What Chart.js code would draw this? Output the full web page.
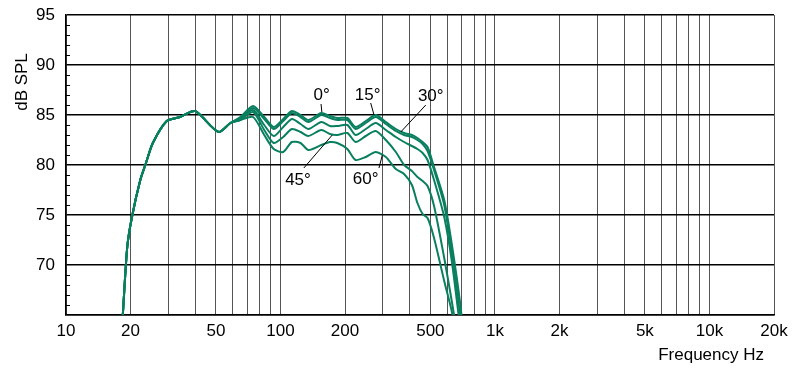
<!DOCTYPE html>
<html>
<head>
<meta charset="utf-8">
<script src="https://cdn.jsdelivr.net/npm/chart.js@4.4.1/dist/chart.umd.min.js"></script>
<style>
  html, body { margin: 0; padding: 0; background: #fff; }
  #wrap { width: 800px; height: 373px; }
</style>
</head>
<body>
<div id="wrap"><canvas id="chart" width="800" height="373"></canvas></div>
<script>
// Shared low-frequency part (all angles identical here)
const lowFreq = [18.4, 19.3, 20.3, 22.2, 23.6, 25.4, 29.5, 34, 38, 40, 42.3, 51.5];
const lowSpl  = [65, 71.8, 74.8, 78.5, 80.2, 82.2, 84.4, 84.8, 85.3, 85.4, 85.0, 83.3];

// Frequencies where the off-axis curves separate
const midFreq = [58.4, 65, 74.5, 84, 93, 103, 113, 124, 135, 155, 170, 184, 205, 224,
                 250, 278, 310, 345, 377, 410, 435, 460, 485, 520, 580, 630, 690, 720];

const spl0  = [84.2, 84.8, 85.9, 84.8, 83.8, 84.6, 85.4, 85.0, 84.5, 85.2, 84.9, 84.7, 84.7, 83.8,
               84.4, 85.0, 84.3, 83.6, 83.2, 83.0, 82.7, 82.3, 81.8, 79.8, 76.5, 72.0, 66.0, 62.0];
const spl15 = [84.2, 84.7, 85.7, 84.6, 83.6, 84.4, 85.2, 84.8, 84.3, 85.0, 84.7, 84.5, 84.5, 83.6,
               84.2, 84.8, 84.1, 83.4, 83.0, 82.8, 82.5, 82.1, 81.4, 79.5, 76.0, 71.2, 64.8, 61.0];
const spl30 = [84.2, 84.6, 85.5, 84.0, 82.9, 83.8, 84.6, 84.1, 83.6, 84.3, 83.9, 83.9, 84.0, 83.0,
               83.6, 84.2, 83.5, 82.8, 82.3, 81.9, 81.6, 81.2, 80.5, 78.5, 74.8, 70.3, 63.5, 60.0];
const spl45 = [84.2, 84.5, 85.3, 83.5, 82.2, 82.8, 83.6, 83.3, 82.9, 83.5, 83.1, 83.0, 83.2, 82.3,
               82.9, 83.4, 82.5, 81.3, 80.0, 79.4, 78.8, 78.4, 77.9, 75.9, 70.7, 66.3, 61.0, 58.0];
const spl60 = [84.2, 84.5, 84.8, 83.0, 81.6, 81.3, 82.3, 82.2, 81.5, 82.0, 82.3, 82.2, 81.6, 80.5,
               80.8, 81.3, 80.8, 79.6, 79.1, 78.0, 76.2, 75.1, 74.7, 72.7, 68.4, 65.3, 61.0, 58.0];

const tickValues = [10, 20, 50, 100, 200, 500, 1000, 2000, 5000, 10000, 20000];
const tickLabels = ['10', '20', '50', '100', '200', '500', '1k', '2k', '5k', '10k', '20k'];
const yLabels = [70, 75, 80, 85, 90, 95];

// angle labels: text, text position [Hz, dB], pointer from / to
const angleLabels = [
  { text: '0°',  at: [155.5, 87.0], from: [154.6, 86.1], to: [155.9, 85.3] },
  { text: '15°', at: [255, 87.0],   from: [263.4, 86.2], to: [273, 85.0] },
  { text: '30°', at: [502, 86.9],   from: [476, 86.0],   to: [363.7, 83.3] },
  { text: '45°', at: [120.7, 78.5], from: [128.5, 79.7], to: [174.4, 83.0] },
  { text: '60°', at: [249.5, 78.6], from: [287.9, 79.7], to: [298.5, 81.0] }
];

const curveColor = '#0a7f5f';
const FONT = '"Liberation Sans", Arial, sans-serif';

function series(spl) {
  const pts = lowFreq.map((f, i) => ({ x: f, y: lowSpl[i] }));
  midFreq.forEach((f, i) => pts.push({ x: f, y: spl[i] }));
  return {
    data: pts,
    borderColor: curveColor,
    borderWidth: 2,
    pointRadius: 0,
    tension: 0.25,
    fill: false
  };
}

// grid frequencies: 1..9 per decade, up to 20k
const gridFreqs = [];
for (let d = 10; d <= 10000; d *= 10) {
  for (let m = 1; m <= 9; m++) {
    if (m * d <= 20000) gridFreqs.push(m * d);
  }
}

const decorations = {
  id: 'decorations',
  afterDatasetsDraw(chart) {
    const { ctx, chartArea, scales: { x, y } } = chart;
    ctx.save();
    // 1 dB minor ticks on the left edge
    ctx.strokeStyle = '#000';
    ctx.lineWidth = 1;
    for (let v = 66; v < 95; v++) {
      if (v % 5 === 0) continue;
      const py = Math.round(y.getPixelForValue(v)) + 0.5;
      ctx.beginPath();
      ctx.moveTo(chartArea.left, py);
      ctx.lineTo(chartArea.left + 4, py);
      ctx.stroke();
    }
    // angle labels with pointer lines
    ctx.font = '17px ' + FONT;
    ctx.fillStyle = '#000';
    ctx.textAlign = 'center';
    ctx.textBaseline = 'middle';
    angleLabels.forEach(l => {
      ctx.beginPath();
      ctx.moveTo(x.getPixelForValue(l.from[0]), y.getPixelForValue(l.from[1]));
      ctx.lineTo(x.getPixelForValue(l.to[0]), y.getPixelForValue(l.to[1]));
      ctx.stroke();
      ctx.fillText(l.text, x.getPixelForValue(l.at[0]), y.getPixelForValue(l.at[1]));
    });
    // axis titles
    ctx.textAlign = 'right';
    ctx.fillText('Frequency Hz', 764, 355);
    ctx.translate(22, 82);
    ctx.rotate(-Math.PI / 2);
    ctx.textAlign = 'center';
    ctx.fillText('dB SPL', 0, 0);
    ctx.restore();
  }
};

Chart.defaults.font.family = FONT;
Chart.defaults.font.size = 17;
Chart.defaults.color = '#000';

new Chart(document.getElementById('chart'), {
  type: 'line',
  data: {
    datasets: [series(spl0), series(spl15), series(spl30), series(spl45), series(spl60)]
  },
  options: {
    responsive: false,
    animation: false,
    layout: { padding: { top: 15, right: 26, left: 0, bottom: 0 } },
    plugins: { legend: { display: false }, tooltip: { enabled: false } },
    scales: {
      x: {
        type: 'logarithmic',
        min: 10,
        max: 20000,
        afterBuildTicks: s => { s.ticks = gridFreqs.map(v => ({ value: v })); },
        afterFit: s => {
          s.height = 58;
          s.paddingLeft = 0;
          s.paddingRight = 0;
        },
        grid: { color: '#555', lineWidth: 1, drawTicks: false },
        border: { color: '#000', width: 1.5 },
        ticks: {
          autoSkip: false,
          maxRotation: 0,
          padding: 6,
          callback: v => {
            const i = tickValues.indexOf(v);
            return i >= 0 ? tickLabels[i] : '';
          }
        }
      },
      y: {
        min: 65,
        max: 95,
        afterBuildTicks: s => { s.ticks = [65].concat(yLabels).map(v => ({ value: v })); },
        afterFit: s => {
          s.width = 66;
          s.paddingTop = 0;
          s.paddingBottom = 0;
        },
        grid: { color: '#000', lineWidth: 1.5, drawTicks: false },
        border: { color: '#000', width: 1.5 },
        ticks: {
          padding: 11,
          callback: v => (yLabels.includes(v) ? String(v) : '')
        }
      }
    }
  },
  plugins: [decorations]
});
</script>
</body>
</html>
